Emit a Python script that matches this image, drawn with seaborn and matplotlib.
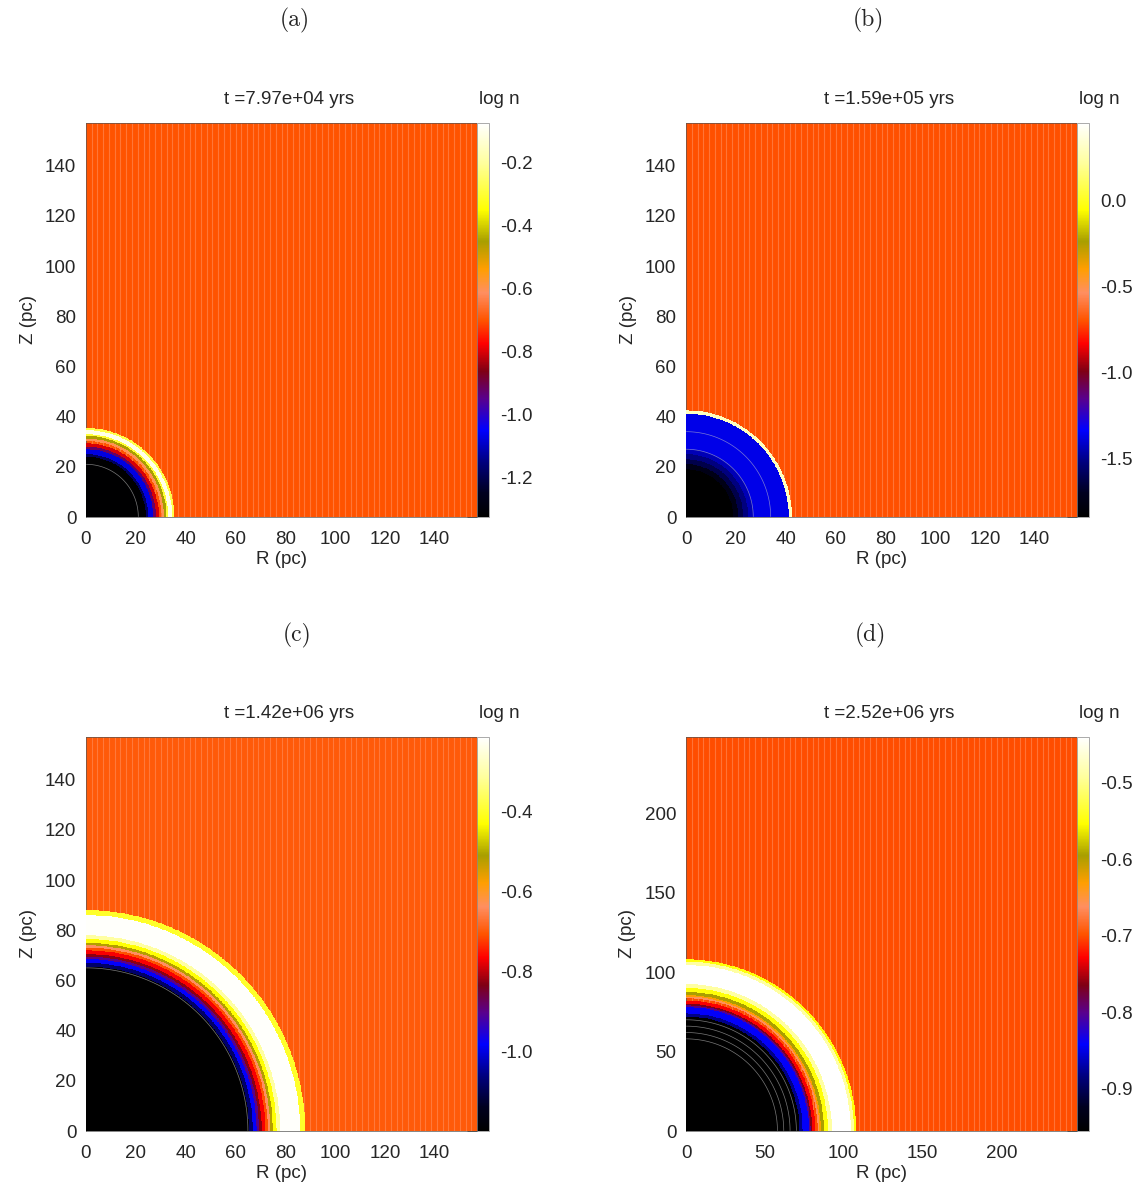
import numpy as np
import matplotlib
matplotlib.use("Agg")
import matplotlib.pyplot as plt
import seaborn as sns
from matplotlib.colors import LinearSegmentedColormap

# ---------------- data ----------------
panel_labels = ["(a)", "(b)", "(c)", "(d)"]
titles = ["t =7.97e+04 yrs", "t =1.59e+05 yrs", "t =1.42e+06 yrs", "t =2.52e+06 yrs"]
extent_pc = [157, 157, 157, 248]                  # R and Z extent of each map (pc)
axis_ticks = [[0, 20, 40, 60, 80, 100, 120, 140]] * 3 + [[0, 50, 100, 150, 200]]
minor_step = [5, 5, 5, 10]
cbar_range = [(-1.324, -0.073), (-1.84, 0.45), (-1.20, -0.215), (-0.955, -0.44)]
cbar_ticks = [[-1.2, -1.0, -0.8, -0.6, -0.4, -0.2],
              [-1.5, -1.0, -0.5, 0.0],
              [-1.0, -0.8, -0.6, -0.4],
              [-0.9, -0.8, -0.7, -0.6, -0.5]]
ambient_logn = -0.7

# radial shells: outer radius (pc) of each band and log n inside the band
shell_a_r = [24.0, 25.0, 27.0, 28.0, 29.3, 30.3, 31.3, 32.3, 33.0, 34.6, 35.5]
shell_a_v = [-1.32, -1.18, -1.07, -0.92, -0.80, -0.70, -0.60, -0.45, -0.30, -0.10, -0.28]
shell_b_r = [19.0, 21.0, 23.0, 25.0, 27.0, 41.2, 42.5]
shell_b_v = [-1.84, -1.74, -1.62, -1.52, -1.44, -1.37, 0.30]
shell_c_r = [65.5, 67.0, 68.5, 69.5, 70.5, 72.0, 73.0, 74.0, 75.0, 76.5, 78.0, 86.0, 88.0]
shell_c_v = [-1.20, -1.08, -0.98, -0.90, -0.83, -0.77, -0.71, -0.64, -0.52, -0.43, -0.31, -0.22, -0.40]
shell_d_r = [72.0, 74.0, 78.0, 79.0, 80.0, 82.0, 83.5, 84.5, 85.5, 87.5, 90.0, 92.5, 104.5, 106.5, 108.0]
shell_d_v = [-0.955, -0.88, -0.84, -0.80, -0.765, -0.73, -0.70, -0.66, -0.63, -0.595, -0.55, -0.49, -0.44, -0.49, -0.55]
shells_r = [shell_a_r, shell_b_r, shell_c_r, shell_d_r]
shells_v = [shell_a_v, shell_b_v, shell_c_v, shell_d_v]
# faint contour lines inside the bubbles (radius, pc)
contour_r = [[21.0], [27.0, 34.0], [65.0], [58.0, 62.0, 66.0, 70.0]]

# IDL-like colour table
cmap_pos = [0.00, 0.06, 0.14, 0.22, 0.30, 0.37, 0.44, 0.50, 0.57, 0.63, 0.70, 0.78, 0.90, 1.00]
cmap_col = [(0, 0, 0), (0, 0, 0.12), (0, 0, 0.5), (0, 0, 1), (0.35, 0, 0.55), (0.5, 0, 0.08),
            (1, 0, 0), (1, 0.33, 0), (1, 0.56, 0.38), (1, 0.62, 0), (0.66, 0.62, 0),
            (1, 1, 0), (1, 1, 0.62), (1, 1, 1)]
cmap = LinearSegmentedColormap.from_list("idl", list(zip(cmap_pos, cmap_col)), N=512)

# ---------------- figure ----------------
sns.set_style("white")
plt.rcParams["font.family"] = ["Liberation Sans", "DejaVu Sans"]
W, H = 1147, 1189
fig = plt.figure(figsize=(W / 100, H / 100), dpi=100)

ax_left = [86, 686, 86, 686]
ax_top = [123, 123, 737, 737]
ax_w, ax_h, cb_w = 391, 394, 12
label_pos = [(295, 20), (868, 20), (297, 635), (870, 635)]

N = 900
for k in range(4):
    L, T = ax_left[k], ax_top[k]
    ax = fig.add_axes([L / W, 1 - (T + ax_h) / H, ax_w / W, ax_h / H])
    cax = fig.add_axes([(L + ax_w) / W, 1 - (T + ax_h) / H, cb_w / W, ax_h / H])

    ext = extent_pc[k]
    step = ext / N
    c = (np.arange(N) + 0.5) * step
    Rg, Zg = np.meshgrid(c, c)
    rr = np.hypot(Rg, Zg)
    vals = np.append(np.array(shells_v[k]), ambient_logn)
    field = vals[np.searchsorted(np.array(shells_r[k]), rr, side="right")]
    vmin, vmax = cbar_range[k]

    sns.heatmap(field, ax=ax, cmap=cmap, vmin=vmin, vmax=vmax, cbar_ax=cax,
                xticklabels=False, yticklabels=False, rasterized=True)
    # faint vertical rendering stripes of the original, then shells redrawn on top
    ax.vlines(np.linspace(0, N, 69)[1:-1], 0, N, colors="#ff9466", lw=0.8, alpha=0.55, zorder=2)
    sns.heatmap(field, ax=ax, cmap=cmap, vmin=vmin, vmax=vmax, cbar=False,
                mask=(field == ambient_logn), xticklabels=False, yticklabels=False,
                rasterized=True)
    ax.collections[-1].set_zorder(3)
    ax.invert_yaxis()

    ax.contour(c / step, c / step, rr, levels=contour_r[k], colors="#c8c8c8",
               linewidths=0.5, alpha=0.6, zorder=4)

    ticks = axis_ticks[k]
    ax.set_xticks([t / step for t in ticks])
    ax.set_xticklabels([str(t) for t in ticks])
    ax.set_yticks([t / step for t in ticks])
    ax.set_yticklabels([str(t) for t in ticks])
    minors = np.arange(0, ext, minor_step[k]) / step
    ax.set_xticks(minors, minor=True)
    ax.set_yticks(minors, minor=True)
    ax.tick_params(which="major", direction="in", length=7, width=0.6, color="#333333",
                   top=True, right=True, labelsize=13.5, pad=7)
    ax.tick_params(axis="x", which="major", pad=10)
    ax.tick_params(which="minor", direction="in", length=3.5, width=0.5, color="#333333",
                   top=True, right=True)
    for s in ax.spines.values():
        s.set_visible(True)
        s.set_linewidth(0.5)
        s.set_color("#555555")
    ax.set_xlim(0, N)
    ax.set_ylim(0, N)
    ax.set_xlabel("R (pc)", fontsize=13.5, labelpad=2)
    ax.set_ylabel("Z (pc)", fontsize=13.5, labelpad=6)

    cb = ax.collections[0].colorbar
    cb.set_ticks(cbar_ticks[k])
    cb.set_ticklabels(["%.1f" % t for t in cbar_ticks[k]])
    cax.tick_params(length=0, labelsize=13.5, pad=8)
    cb.outline.set_visible(True)
    cb.outline.set_linewidth(0.5)
    cb.outline.set_edgecolor("#888888")

    ty = T - 24
    fig.text((L + ax_w / 2 + 8) / W, 1 - ty / H, titles[k], ha="center", va="center", fontsize=13.5)
    fig.text((L + ax_w + 22) / W, 1 - ty / H, "log n", ha="center", va="center", fontsize=13.5)
    lx, ly = label_pos[k]
    fig.text(lx / W, 1 - ly / H, panel_labels[k], ha="center", va="center",
             fontsize=17, family="cmr10")

fig.savefig("out.png", dpi=100)
